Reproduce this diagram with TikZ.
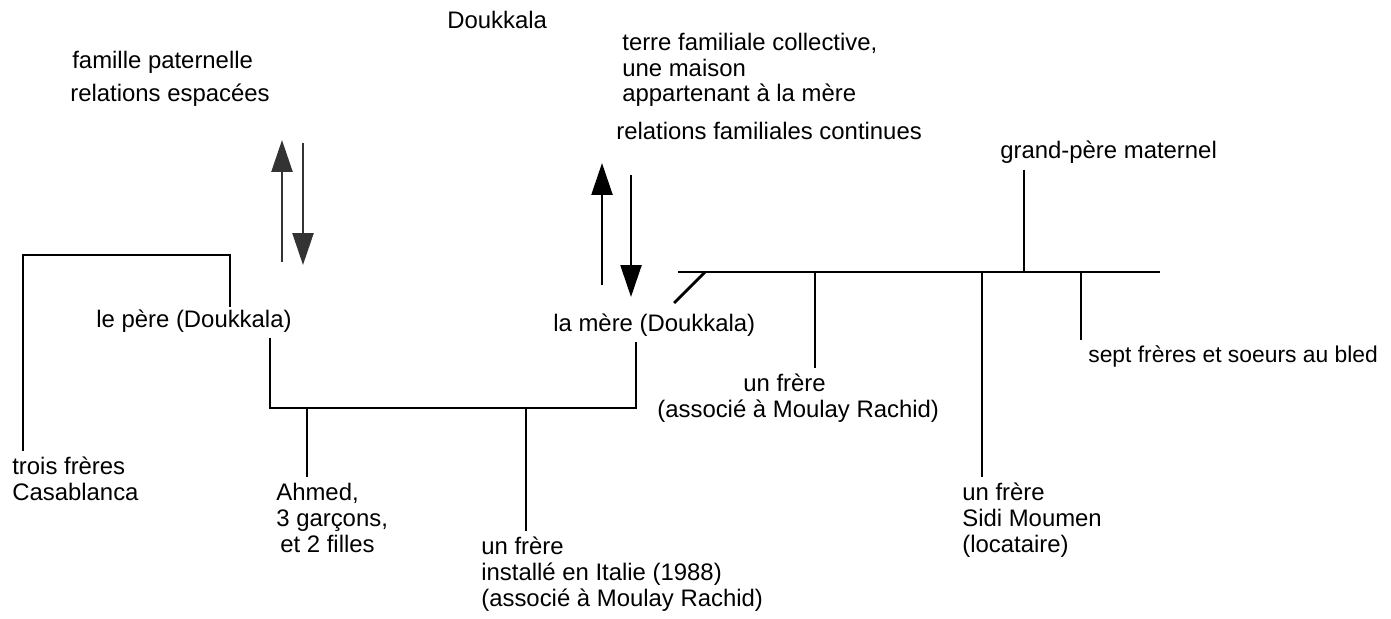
\documentclass[tikz,border=0pt]{standalone}
\usepackage{fontspec}
\setmainfont{Liberation Sans}
\usetikzlibrary{positioning, arrows.meta}
\newcommand{\famarrow}{-{Triangle[length=0.64cm,width=0.42cm]}}
\tikzset{
    txt/.style={anchor=base west, inner xsep=0pt, inner ysep=3pt, align=left},
    lien/.style={line width=1.6pt},
}

\begin{document}
\begin{tikzpicture}[x=0.02cm, y=-0.02cm, font=\fontsize{13.6pt}{14.7pt}\selectfont]
        \useasboundingbox (0,0) rectangle (1391,618);

        % textes du haut
        \node[txt] (douk) at (447,29) {Doukkala};
        \node[txt] (famille) at (72,69) {famille paternelle};
        \node[txt] (espacees) at (70,102) {relations espacées};
        \node[txt] (terre) at (622,102) {terre familiale collective,\\ une maison\\appartenant à la mère};
        \node[txt] (continues) at (616,140) {relations familiales continues};
        \node[txt] (gpere) at (1000,159) {grand-père maternel};

        % parents
        \node[txt] (pere) at (96,327) {le père (Doukkala)};
        \node[txt] (mere) at (553,331) {la mère (Doukkala)};

        % enfants et oncles
        \node[txt] (trois) at (12,500) {trois frères\\Casablanca};
        \node[txt] (ahmed) at (276,552) {Ahmed,\\3 garçons,\\\hspace*{0.08cm}et 2 filles};
        \node[txt] (italie) at (481,606) {un frère\\installé en Italie (1988)\\(associé à Moulay Rachid)};
        \node[txt] (frereA) at (657,417) {\hspace*{1.72cm}un frère\\(associé à Moulay Rachid)};
        \node[txt] (sidi) at (962,552) {un frère\\Sidi Moumen\\(locataire)};
        \node[txt, font=\fontsize{13pt}{14pt}\selectfont] (sept) at (1088,362) {sept frères et soeurs au bled};

        % points de jonction
        \coordinate (brk) at (23,255);
        \coordinate (pereJ) at (230,307);
        \coordinate (barL) at (270,408);
        \coordinate (barR) at (636,408);
        \coordinate (dropA) at (307,408);
        \coordinate (dropI) at (526,408);
        \coordinate (matL) at (678,272);
        \coordinate (matR) at (1160,272);
        \coordinate (diagA) at (705,272);
        \coordinate (diagB) at (674,303);
        \coordinate (gpJ) at (1024,272);
        \coordinate (dropF) at (815,272);
        \coordinate (dropS) at (982,272);
        \coordinate (dropB) at (1081,272);

        % famille paternelle
        \draw[lien] (brk |- trois.north) -- (brk) -| (pereJ);
        \draw[lien] (barL |- pere.south) -- (barL) -- (barR) -- (barR |- mere.south);
        \draw[lien] (dropA) -- (dropA |- ahmed.north);
        \draw[lien] (dropI) -- (dropI |- italie.north);

        % famille maternelle
        \draw[lien] (matL) -- (matR);
        \draw[lien] (diagA) -- (diagB);
        \draw[lien] (gpJ |- gpere.south) -- (gpJ);
        \draw[lien] (dropF) -- (dropF |- frereA.north);
        \draw[lien] (dropS) -- (dropS |- sidi.north);
        \draw[lien] (dropB) -- (dropB |- sept.north);

        % relations
        \coordinate (pUp) at (282,262);
        \coordinate (pDown) at (303,143);
        \coordinate (mUp) at (602,285);
        \coordinate (mDown) at (631,175);
        \draw[line width=1.4pt, black!80, \famarrow] (pUp) -- ++(0,-122);
        \draw[line width=1.4pt, black!80, \famarrow] (pDown) -- ++(0,122);
        \draw[line width=1.4pt, \famarrow] (mUp) -- ++(0,-122);
        \draw[line width=1.4pt, \famarrow] (mDown) -- ++(0,122);
    \end{tikzpicture}
\end{document}
